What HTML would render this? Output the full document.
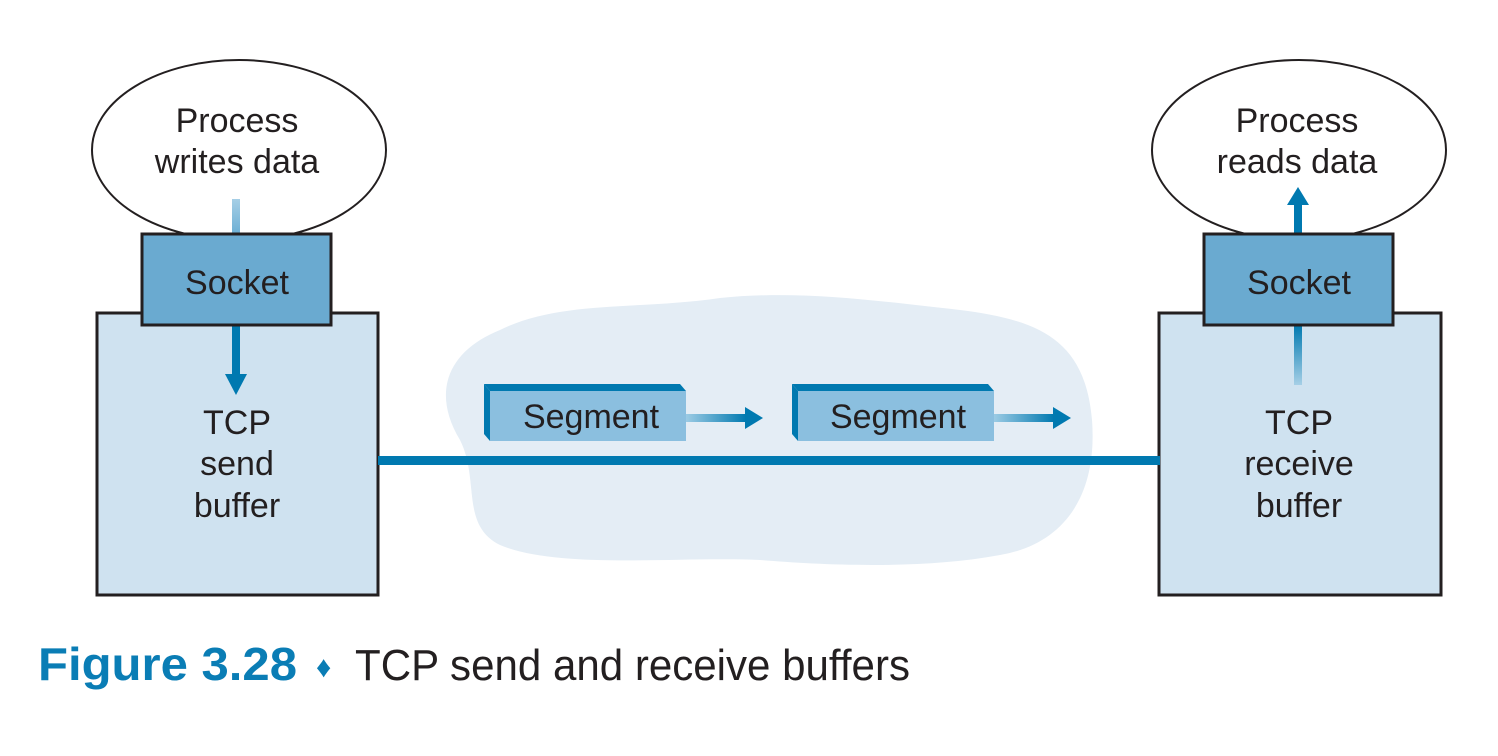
<!DOCTYPE html>
<html><head><meta charset="utf-8"><style>
html,body{margin:0;padding:0;background:#fff}
svg{display:block}
text{font-family:"Liberation Sans",sans-serif;fill:#231f20}
</style></head><body>
<svg width="1498" height="756" viewBox="0 0 1498 756" xmlns="http://www.w3.org/2000/svg">
<defs>
<linearGradient id="gh" x1="0" x2="1" y1="0" y2="0"><stop offset="0" stop-color="#9ccbe4"/><stop offset="1" stop-color="#0079b0"/></linearGradient>
<linearGradient id="gvd" x1="0" x2="0" y1="0" y2="1"><stop offset="0" stop-color="#a6cfe6"/><stop offset="1" stop-color="#6aaed4"/></linearGradient>
<linearGradient id="gvu" x1="0" x2="0" y1="1" y2="0"><stop offset="0" stop-color="#a6cfe6"/><stop offset="1" stop-color="#0079b0"/></linearGradient>
</defs>
<path d="M500,330 C560,300 640,310 720,298 C800,290 870,300 960,310 C1040,320 1085,340 1092,420 C1098,500 1060,545 1000,555 C920,570 820,565 760,560 C680,556 560,570 500,545 C460,525 480,480 460,440 C430,390 450,350 500,330 Z" fill="#e4edf5"/>
<ellipse cx="239" cy="150" rx="147" ry="90" fill="#fff" stroke="#231f20" stroke-width="2"/>
<ellipse cx="1299" cy="150" rx="147" ry="90" fill="#fff" stroke="#231f20" stroke-width="2"/>
<rect x="97" y="313" width="281" height="282" fill="#cfe2f0" stroke="#231f20" stroke-width="3"/>
<rect x="1159" y="313" width="282" height="282" fill="#cfe2f0" stroke="#231f20" stroke-width="3"/>
<rect x="378" y="456" width="782" height="9" fill="#0079b0"/>
<rect x="232" y="199" width="8" height="36" fill="url(#gvd)"/>
<rect x="232" y="325" width="8" height="50" fill="#0079b0"/>
<polygon points="225,374 247,374 236,395" fill="#0079b0"/>
<rect x="1294" y="325" width="8" height="60" fill="url(#gvu)"/>
<rect x="1294" y="203" width="8" height="32" fill="#0079b0"/>
<polygon points="1287,205 1309,205 1298,187" fill="#0079b0"/>
<rect x="142" y="234" width="189" height="91" fill="#6aaad0" stroke="#231f20" stroke-width="3"/>
<rect x="1204" y="234" width="189" height="91" fill="#6aaad0" stroke="#231f20" stroke-width="3"/>
<g>
<polygon points="484,384 680,384 686,391 490,391" fill="#0079b0"/>
<polygon points="484,384 490,391 490,441 484,434" fill="#0079b0"/>
<rect x="490" y="391" width="196" height="50" fill="#8bbfdf"/>
<rect x="686" y="414" width="60" height="8" fill="url(#gh)"/>
<polygon points="745,407 763,418 745,429" fill="#0079b0"/>
</g>
<g transform="translate(308,0)">
<polygon points="484,384 680,384 686,391 490,391" fill="#0079b0"/>
<polygon points="484,384 490,391 490,441 484,434" fill="#0079b0"/>
<rect x="490" y="391" width="196" height="50" fill="#8bbfdf"/>
<rect x="686" y="414" width="60" height="8" fill="url(#gh)"/>
<polygon points="745,407 763,418 745,429" fill="#0079b0"/>
</g>
<g font-size="34" text-anchor="middle">
<text x="237" y="132">Process</text>
<text x="237" y="173">writes data</text>
<text x="1297" y="132">Process</text>
<text x="1297" y="173">reads data</text>
<text x="237" y="294">Socket</text>
<text x="1299" y="294">Socket</text>
<text x="237" y="434">TCP</text>
<text x="237" y="475">send</text>
<text x="237" y="517">buffer</text>
<text x="1299" y="434">TCP</text>
<text x="1299" y="475">receive</text>
<text x="1299" y="517">buffer</text>
<text x="591" y="428">Segment</text>
<text x="898" y="428">Segment</text>
</g>
<text x="38" y="680" font-size="46" font-weight="bold" style="fill:#0a7db5" textLength="259" lengthAdjust="spacingAndGlyphs">Figure 3.28</text>
<text x="316" y="677" font-size="30" style="fill:#0a7db5">♦</text>
<text x="355" y="680" font-size="44" textLength="555" lengthAdjust="spacingAndGlyphs">TCP send and receive buffers</text>
</svg>
</body></html>
